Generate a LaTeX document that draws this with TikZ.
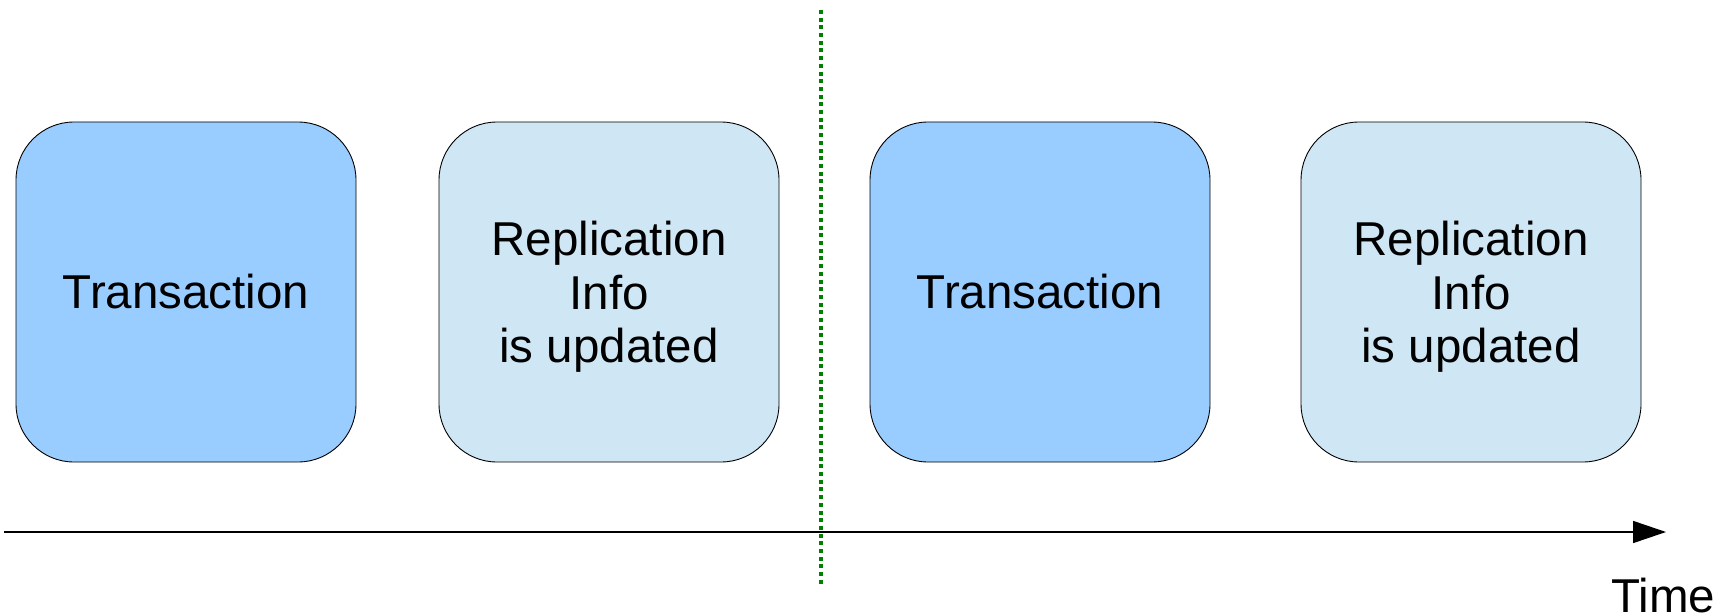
\documentclass[tikz,border=0pt]{standalone}
\usepackage{fontspec}
\setmainfont{Liberation Sans}
\usetikzlibrary{arrows.meta}
\definecolor{txblue}{HTML}{99CCFF}
\definecolor{repblue}{HTML}{CFE7F5}
\definecolor{sepgreen}{HTML}{008000}
\begin{document}
\begin{tikzpicture}[x=1pt,y=-1pt,
  stagebox/.style={draw=black,line width=0.9pt,rounded corners=58pt,minimum width=340pt,minimum height=340pt,inner sep=0pt,align=center,font=\fontsize{47.5}{53.5}\selectfont},
  txbox/.style={stagebox,fill=txblue},
  repbox/.style={stagebox,fill=repblue,text depth=-8pt},
  timeaxis/.style={line width=1.5pt,-{Triangle[length=33pt,width=22pt]}},
  separator/.style={draw=sepgreen,line width=3.6pt,dash pattern=on 4pt off 3.7pt}]
\useasboundingbox (0,0) rectangle (1728,615);
\node[txbox] (t1) at (186,292) {Transaction};
\node[repbox] (r1) at (609,292) {Replication\\Info\\is updated};
\node[txbox] (t2) at (1040,292) {Transaction};
\node[repbox] (r2) at (1471,292) {Replication\\Info\\is updated};
\coordinate (sepTop) at (820.7,10);
\coordinate (sepBot) at (820.7,585);
\draw[separator] (sepTop) -- (sepBot);
\coordinate (axStart) at (4,532);
\coordinate (axEnd) at (1666,532);
\draw[timeaxis] (axStart) -- (axEnd);
\node[anchor=base west,inner sep=0pt,font=\fontsize{47.5}{54}\selectfont] (time) at (1611,612) {Time};
\end{tikzpicture}
\end{document}
